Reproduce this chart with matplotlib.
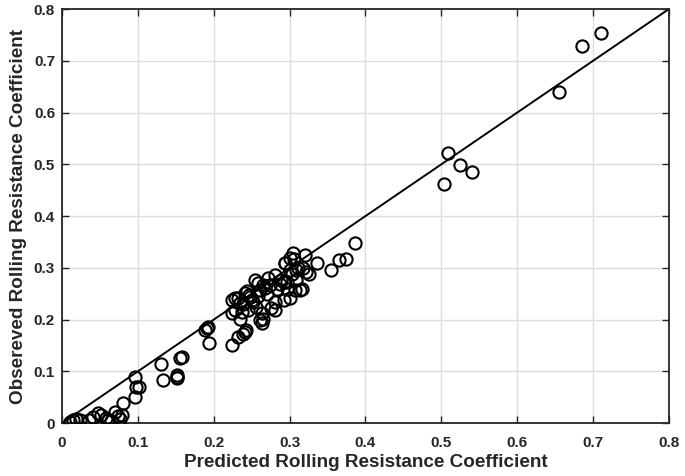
"""
Observed vs predicted rolling resistance coefficient, with the 1:1 line.
"""

import numpy as np
import matplotlib.pyplot as plt

plt.rcParams['font.family'] = ['Liberation Sans', 'DejaVu Sans']
plt.rcParams['font.weight'] = 'bold'

predicted = [
    0.011, 0.015, 0.019, 0.024, 0.035, 0.041, 0.048, 0.052, 0.058, 0.061,
    0.064, 0.070, 0.074, 0.079, 0.080, 0.076, 0.096, 0.098, 0.096, 0.101,
    0.130, 0.133, 0.151, 0.152, 0.152, 0.155, 0.158, 0.188, 0.191, 0.193,
    0.194, 0.224, 0.224, 0.232, 0.239, 0.243, 0.241, 0.235, 0.228, 0.224,
    0.232, 0.237, 0.245, 0.239, 0.252, 0.256, 0.241, 0.248, 0.228, 0.263,
    0.265, 0.261, 0.263, 0.281, 0.276, 0.281, 0.292, 0.300, 0.254, 0.265,
    0.274, 0.261, 0.283, 0.296, 0.309, 0.314, 0.289, 0.281, 0.303, 0.311,
    0.322, 0.294, 0.305, 0.306, 0.320, 0.309, 0.296, 0.325, 0.316, 0.307,
    0.300, 0.292, 0.294, 0.336, 0.354, 0.365, 0.374, 0.386, 0.246, 0.250,
    0.268, 0.258, 0.272, 0.287, 0.234, 0.244, 0.258, 0.270, 0.300, 0.318,
    0.504, 0.509, 0.524, 0.541, 0.655, 0.686, 0.711,
]
observed = [
    0.003, 0.006, 0.009, 0.006, 0.006, 0.012, 0.019, 0.016, 0.010, 0.006,
    0.004, 0.022, 0.013, 0.016, 0.038, 0.008, 0.050, 0.070, 0.089, 0.070,
    0.115, 0.084, 0.087, 0.090, 0.093, 0.125, 0.128, 0.180, 0.184, 0.186,
    0.155, 0.151, 0.238, 0.167, 0.173, 0.180, 0.176, 0.202, 0.218, 0.212,
    0.241, 0.215, 0.218, 0.231, 0.234, 0.225, 0.251, 0.244, 0.241, 0.212,
    0.202, 0.199, 0.193, 0.218, 0.222, 0.234, 0.238, 0.241, 0.276, 0.267,
    0.267, 0.257, 0.260, 0.260, 0.276, 0.257, 0.276, 0.286, 0.289, 0.299,
    0.292, 0.309, 0.328, 0.318, 0.325, 0.296, 0.273, 0.289, 0.260, 0.257,
    0.296, 0.273, 0.309, 0.309, 0.296, 0.315, 0.318, 0.349, 0.248, 0.238,
    0.262, 0.270, 0.280, 0.268, 0.232, 0.256, 0.245, 0.250, 0.320, 0.300,
    0.462, 0.522, 0.498, 0.486, 0.639, 0.729, 0.753,
]

ticks = [0, 0.1, 0.2, 0.3, 0.4, 0.5, 0.6, 0.7, 0.8]
tick_labels = ['0', '0.1', '0.2', '0.3', '0.4', '0.5', '0.6', '0.7', '0.8']

fig = plt.figure(figsize=(6.85, 4.76), dpi=100)
ax = fig.add_axes([0.0905, 0.111, 0.886, 0.870])

ax.plot([0, 0.8], [0, 0.8], color='black', linewidth=1.4, zorder=2)
ax.plot(predicted, observed, linestyle='none', marker='o', markersize=8.8,
        markerfacecolor='none', markeredgecolor='black', markeredgewidth=1.5,
        zorder=3)

ax.set_xlim(0, 0.8)
ax.set_ylim(0, 0.8)
ax.set_xticks(ticks)
ax.set_xticklabels(tick_labels)
ax.set_yticks(ticks)
ax.set_yticklabels(tick_labels)
ax.grid(True, color='#dcdcdc', linewidth=1.0)
ax.set_axisbelow(True)
ax.tick_params(direction='in', top=True, right=True, length=5, width=1.0,
               labelsize=11, colors='#262626')
ax.tick_params(axis='x', pad=9)
ax.tick_params(axis='y', pad=5)
for s in ax.spines.values():
    s.set_linewidth(1.3)
    s.set_color('#262626')

ax.set_xlabel('Predicted Rolling Resistance Coefficient', fontsize=13.6,
              fontweight='bold', color='#262626', labelpad=3)
ax.set_ylabel('Obsereved Rolling Resistance Coefficient', fontsize=13.6,
              fontweight='bold', color='#262626', labelpad=5)

plt.savefig('out.png', dpi=100)
